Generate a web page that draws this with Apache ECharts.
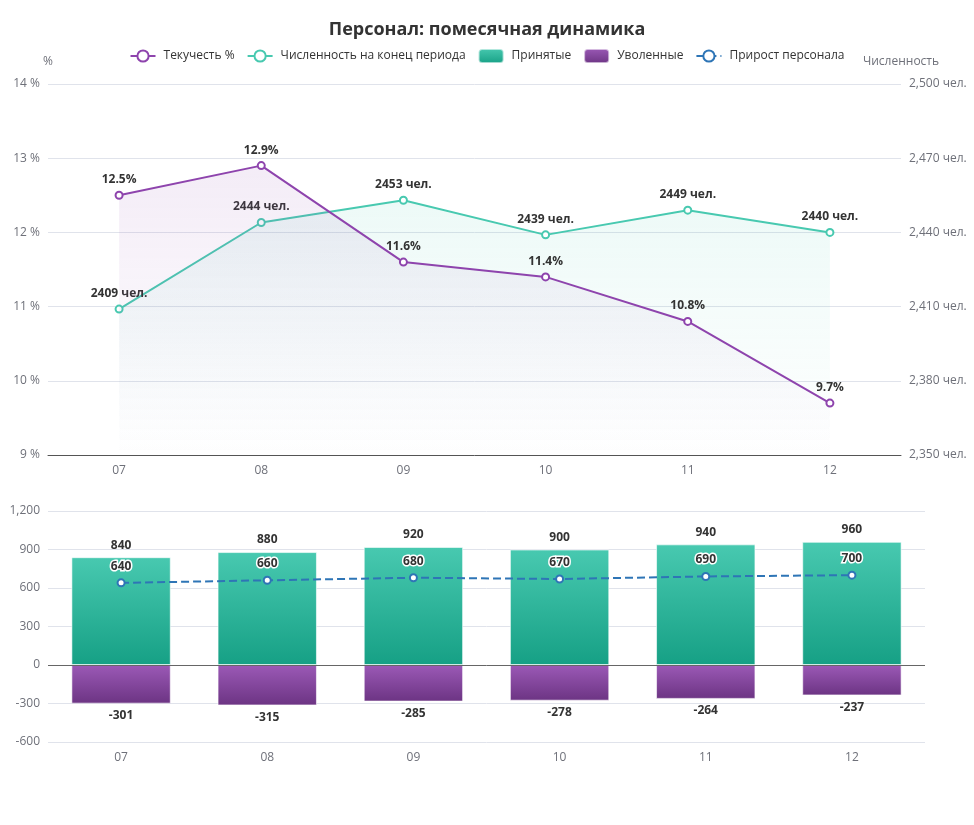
<!DOCTYPE html>
<html lang="ru">
<head>
    <meta http-equiv="Content-Type" content="text/html; charset=UTF-8">
    <title>Персонал</title>
    <script type="text/javascript" src="https://cdn.jsdelivr.net/npm/echarts@6/dist/echarts.min.js"></script>
    <style>
        html, body { margin: 0; padding: 0; background: #fff; }
    </style>
</head>
<body>
    <div id="main" style="width: 974px;height:825px;"></div>
    <script type="text/javascript">
        // данные
        var months = ['07', '08', '09', '10', '11', '12'];
        var turnover = [12.5, 12.9, 11.6, 11.4, 10.8, 9.7];          // Текучесть %
        var headcount = [2409, 2444, 2453, 2439, 2449, 2440];       // Численность на конец периода
        var hired = [840, 880, 920, 900, 940, 960];                 // Принятые
        var fired = [-301, -315, -285, -278, -264, -237];           // Уволенные
        var growth = [640, 660, 680, 670, 690, 700];                // Прирост персонала

        var FONT = '"Open Sans", "Noto Sans", sans-serif';
        var labelStyle = { show: true, position: 'top', color: '#333', fontWeight: 'bold', fontSize: 12, fontFamily: FONT };

        function grad(c1, c2) {
            return new echarts.graphic.LinearGradient(0, 0, 0, 1, [
                { offset: 0, color: c1 }, { offset: 1, color: c2 }
            ]);
        }
        function fmtNum(v) {
            return Number(v).toLocaleString('en-US');
        }

        var myChart = echarts.init(document.getElementById('main'));
        myChart.setOption({
            animation: false,
            textStyle: { fontFamily: FONT },
            title: {
                text: 'Персонал: помесячная динамика',
                left: 'center',
                top: 16,
                textStyle: { fontSize: 18, fontWeight: 'bold', color: '#333', fontFamily: FONT }
            },
            legend: {
                top: 43,
                left: 'center',
                itemGap: 12,
                itemWidth: 25,
                itemHeight: 14,
                textStyle: { fontSize: 12, color: '#333', fontFamily: FONT, padding: [0, 0, 0, 3] },
                data: ['Текучесть %', 'Численность на конец периода', 'Принятые', 'Уволенные', 'Прирост персонала']
            },
            grid: [
                { left: 48, right: 73, top: 84, height: 371 },
                { left: 48, right: 49, top: 511, height: 231 }
            ],
            xAxis: [
                {
                    type: 'category', gridIndex: 0, data: months,
                    axisTick: { show: false },
                    axisLine: { lineStyle: { color: '#555' } },
                    axisLabel: { color: '#6E7079', fontSize: 12, margin: 10 }
                },
                {
                    type: 'category', gridIndex: 1, data: months,
                    axisTick: { show: false },
                    axisLine: { show: false, onZero: false },
                    axisLabel: { color: '#6E7079', fontSize: 12, margin: 10 }
                }
            ],
            yAxis: [
                {
                    type: 'value', gridIndex: 0, min: 9, max: 14, interval: 1,
                    name: '%', nameGap: 16, nameTextStyle: { color: '#6E7079', align: 'center' },
                    axisLabel: { formatter: '{value} %', color: '#6E7079' },
                    splitLine: { lineStyle: { color: '#E0E3EB' } }
                },
                {
                    type: 'value', gridIndex: 0, position: 'right', min: 2350, max: 2500, interval: 30,
                    name: 'Численность', nameGap: 16, nameTextStyle: { color: '#6E7079', align: 'center' },
                    axisLabel: { formatter: function (v) { return fmtNum(v) + ' чел.'; }, color: '#6E7079' },
                    splitLine: { show: false }
                },
                {
                    type: 'value', gridIndex: 1, min: -600, max: 1200, interval: 300,
                    axisLabel: { formatter: fmtNum, color: '#6E7079' },
                    splitLine: { lineStyle: { color: '#E0E3EB' } }
                }
            ],
            series: [
                {
                    name: 'Текучесть %', type: 'line', xAxisIndex: 0, yAxisIndex: 0,
                    data: turnover,
                    symbol: 'emptyCircle', symbolSize: 7,
                    lineStyle: { color: '#8E44AD', width: 2 },
                    itemStyle: { color: '#8E44AD', borderWidth: 2 },
                    areaStyle: { color: grad('rgba(155,89,182,0.16)', 'rgba(155,89,182,0)') },
                    label: Object.assign({}, labelStyle, { formatter: '{c}%' }),
                    z: 3
                },
                {
                    name: 'Численность на конец периода', type: 'line', xAxisIndex: 0, yAxisIndex: 1,
                    data: headcount,
                    symbol: 'emptyCircle', symbolSize: 7,
                    lineStyle: { color: '#48C9B0', width: 2 },
                    itemStyle: { color: '#48C9B0', borderWidth: 2 },
                    areaStyle: { color: grad('rgba(72,201,176,0.14)', 'rgba(72,201,176,0)') },
                    label: Object.assign({}, labelStyle, { formatter: '{c} чел.' }),
                    z: 2
                },
                {
                    name: 'Принятые', type: 'bar', xAxisIndex: 1, yAxisIndex: 2,
                    data: hired, stack: 'people', barWidth: '68%',
                    itemStyle: { color: grad('#48C9B0', '#16A085'), borderColor: 'rgba(255,255,255,0.6)', borderWidth: 1 },
                    label: Object.assign({}, labelStyle, { position: 'top', distance: 6 }),
                    markLine: {
                        silent: true, symbol: 'none',
                        label: { show: false },
                        lineStyle: { color: '#666', type: 'solid', width: 1 },
                        data: [{ yAxis: 0 }]
                    }
                },
                {
                    name: 'Уволенные', type: 'bar', xAxisIndex: 1, yAxisIndex: 2,
                    data: fired, stack: 'people', barWidth: '68%',
                    itemStyle: { color: grad('#9B59B6', '#6C3483'), borderColor: 'rgba(255,255,255,0.6)', borderWidth: 1 },
                    label: Object.assign({}, labelStyle, { position: 'bottom', distance: 6 })
                },
                {
                    name: 'Прирост персонала', type: 'line', xAxisIndex: 1, yAxisIndex: 2,
                    data: growth,
                    symbol: 'circle', symbolSize: 7,
                    lineStyle: { color: '#2E75B6', width: 2, type: 'dashed' },
                    itemStyle: { color: '#fff', borderColor: '#2E75B6', borderWidth: 2 },
                    label: Object.assign({}, labelStyle, { textBorderColor: '#fff', textBorderWidth: 3, distance: 6 }),
                    z: 5
                }
            ]
        });
    </script>
</body>
</html>
